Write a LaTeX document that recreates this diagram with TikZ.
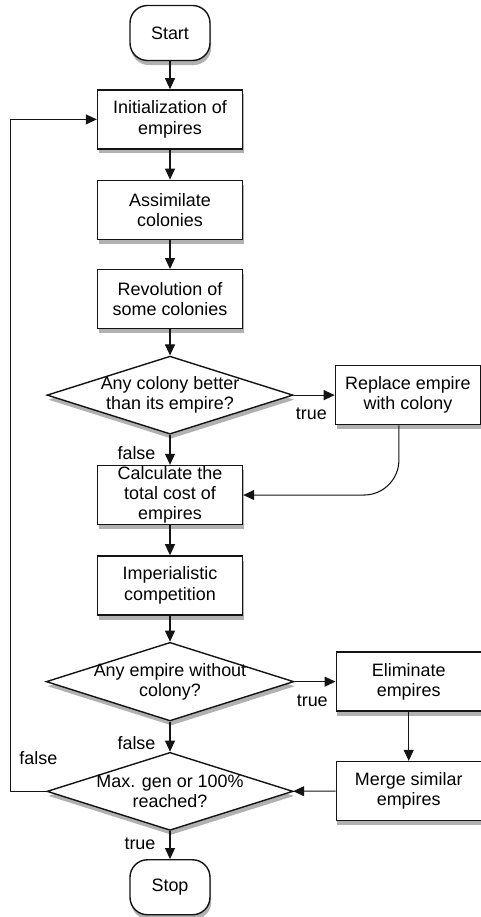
\documentclass[tikz,border=0pt]{standalone}
\usepackage{fontspec}
\setmainfont{Liberation Sans}
\usetikzlibrary{arrows.meta,positioning,shapes.geometric,shadows}
\definecolor{flowInk}{RGB}{20,20,20}
\definecolor{shadeGray}{RGB}{100,100,100}
\tikzset{
  box/.style={draw=flowInk, line width=0.8pt, fill=white, align=center, minimum width=2.9cm, minimum height=1.18cm, inner xsep=1pt, inner ysep=0pt, font=\fontsize{10.2}{11.5}\selectfont, drop shadow={fill=shadeGray, opacity=0.5, shadow xshift=0.7pt, shadow yshift=-2.6pt}},
  termbox/.style={box, rounded corners=0.35cm, minimum width=1.6cm, minimum height=1.1cm},
  decbox/.style={box, diamond, aspect=3.15, minimum width=4.92cm, minimum height=1.56cm, inner xsep=-6pt, inner ysep=0pt},
  flow/.style={-{Triangle[length=2.2mm, width=2mm]}, line width=0.6pt, draw=flowInk},
  lbl/.style={font=\fontsize{10.2}{11.5}\selectfont, inner sep=1pt}
}
\begin{document}
\begin{tikzpicture}[node distance=0.6cm]
  \useasboundingbox (-3.4,0.66) rectangle (6.2,-17.68);
  \node[termbox] (start) {Start};
  \node[box, below=0.56cm of start] (init) {Initialization of\\empires};
  \node[box, below=of init] (assim) {Assimilate\\colonies};
  \node[box, below=0.58cm of assim] (revol) {Revolution of\\some colonies};
  \node[decbox, below=0.52cm of revol] (better) {Any colony better\\than its empire?};
  \node[box, right=0.82cm of better] (replace) {Replace empire\\with colony};
  \node[box, below=0.6cm of better] (cost) {Calculate the\\total cost of\\empires};
  \node[box, below=of cost] (compete) {Imperialistic\\competition};
  \node[decbox, below=0.52cm of compete] (nocol) {Any empire without\\colony?};
  \node[box, right=0.82cm of nocol] (elim) {Eliminate\\empires};
  \node[decbox, below=0.6cm of nocol] (done) {Max. gen or 100\%\\reached?};
  \node[box, below=0.98cm of elim] (merge) {Merge similar\\empires};
  \node[termbox, below=0.56cm of done] (stop) {Stop};
  \draw[flow] (start) -- (init);
  \draw[flow] (init) -- (assim);
  \draw[flow] (assim) -- (revol);
  \draw[flow] (revol) -- (better);
  \draw[flow] (better) -- node[lbl, pos=0, anchor=north west, yshift=-6pt]{true} (replace);
  \draw[flow] (better) -- node[lbl, left=7pt, pos=0.6]{false} (cost);
  \draw[flow, rounded corners=0.7cm] ([xshift=-0.18cm]replace.south) |- (cost.east);
  \draw[flow] (cost) -- (compete);
  \draw[flow] (compete) -- (nocol);
  \draw[flow] (nocol) -- node[lbl, pos=0, anchor=north west, yshift=-6pt]{true} (elim);
  \draw[flow] (nocol) -- node[lbl, left=7pt, pos=0.7]{false} (done);
  \draw[flow] (elim) -- (merge);
  \draw[flow] (merge) -- (done);
  \draw[flow] (done) -- node[lbl, left=7pt, pos=0.45]{true} (stop);
  \draw[flow] (done.west) -- node[lbl, above=14pt, pos=0.22]{false} ++(-0.72,0) |- (init.west);
\end{tikzpicture}
\end{document}
